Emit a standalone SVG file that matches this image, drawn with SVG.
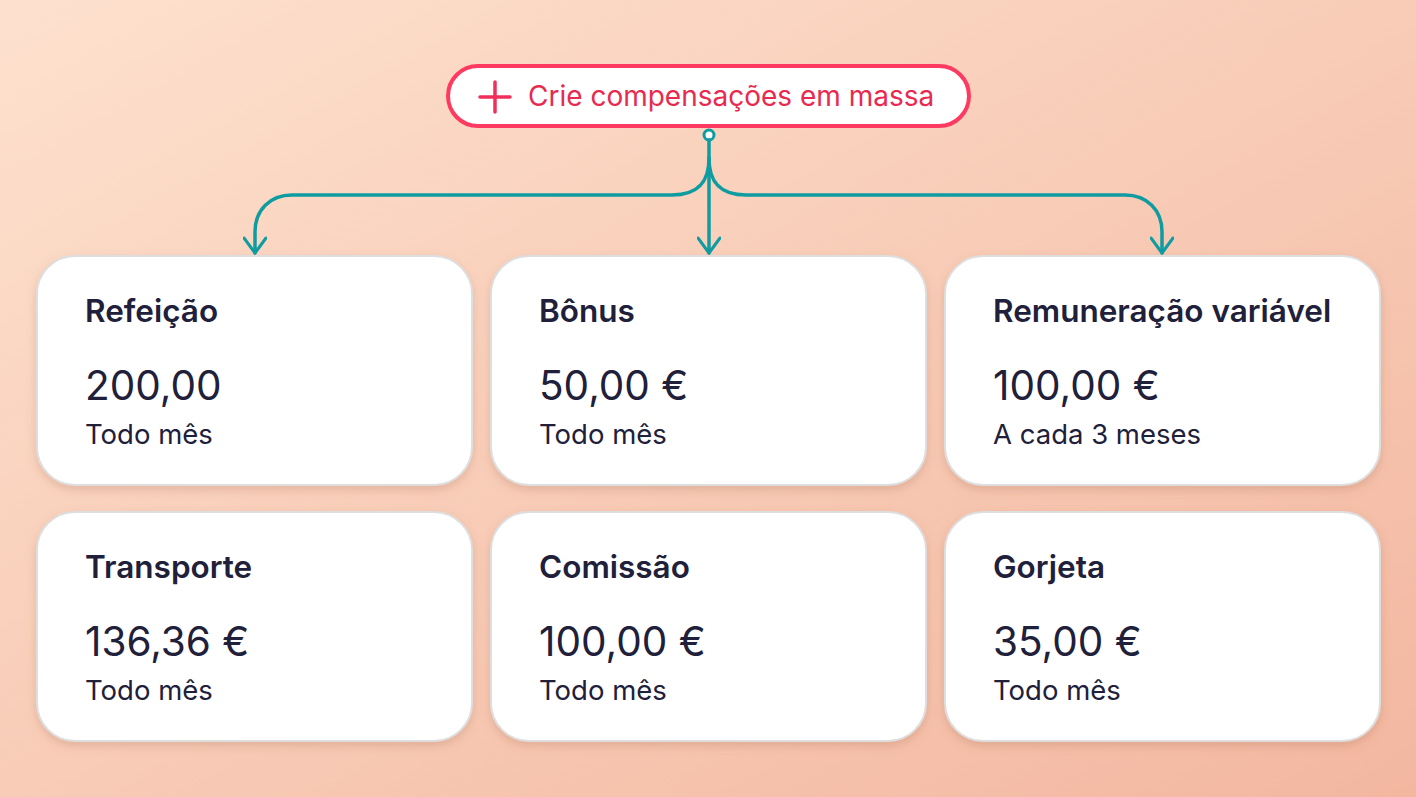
<svg xmlns="http://www.w3.org/2000/svg" width="1416" height="797" viewBox="0 0 1416 797">
<defs>
<linearGradient id="bg" x1="0" y1="0" x2="1" y2="1">
<stop offset="0" stop-color="#fde1ce"/>
<stop offset="1" stop-color="#f3b7a0"/>
</linearGradient>
<filter id="sh" x="-10%" y="-10%" width="120%" height="130%">
<feDropShadow dx="0" dy="4" stdDeviation="5" flood-color="#a0604a" flood-opacity="0.25"/>
</filter>
<marker id="arr" viewBox="0 0 20 24" refX="18" refY="12" markerWidth="20" markerHeight="24" markerUnits="userSpaceOnUse" orient="auto">
<path d="M3,1 L18,12 L3,23" fill="none" stroke="#0e9ca1" stroke-width="3" stroke-linecap="round" stroke-linejoin="round"/>
</marker>
<style>
.card{fill:#fff;stroke:#dedede;stroke-width:2;filter:url(#sh)}
.t{font-family:Inter,"Liberation Sans",sans-serif;fill:#20203a}
.title{font-size:31.5px;font-weight:600}
.amt{font-size:40.5px;font-weight:400}
.sub{font-size:27.5px;font-weight:400}
.con{fill:none;stroke:#0e9ca1;stroke-width:3.5;stroke-linecap:round}
</style>
</defs>
<rect width="1416" height="797" fill="url(#bg)"/>

<g id="button">
<rect x="448" y="66" width="521" height="60" rx="30" fill="#fff" stroke="#ff3a60" stroke-width="4"/>
<path d="M480,97 H510 M495,82 V112" stroke="#f0305a" stroke-width="3.5" stroke-linecap="round"/>
<text x="528" y="106" font-family="Inter,'Liberation Sans',sans-serif" font-size="28" fill="#e82a50">Crie compensações em massa</text>
</g>

<g id="connectors">
<circle cx="709" cy="135" r="5" fill="#fff" stroke="#0e9ca1" stroke-width="3"/>
<path class="con" d="M709,140 V253" marker-end="url(#arr)"/>
<path class="con" d="M709,158 C709,180 700,195 672,195 H292 C270,195 255,210 255,232 V253" marker-end="url(#arr)"/>
<path class="con" d="M709,158 C709,180 718,195 746,195 H1125 C1147,195 1162,210 1162,232 V253" marker-end="url(#arr)"/>
</g>

<g id="card-refeicao">
<rect class="card" x="37" y="256" width="435" height="229" rx="38"/>
<text class="t title" x="85" y="322">Refeição</text>
<text class="t amt" x="85" y="400">200,00</text>
<text class="t sub" x="85" y="444">Todo mês</text>
</g>
<g id="card-bonus">
<rect class="card" x="491" y="256" width="435" height="229" rx="38"/>
<text class="t title" x="539" y="322">Bônus</text>
<text class="t amt" x="539" y="400">50,00 €</text>
<text class="t sub" x="539" y="444">Todo mês</text>
</g>
<g id="card-remuneracao">
<rect class="card" x="945" y="256" width="435" height="229" rx="38"/>
<text class="t title" x="993" y="322">Remuneração variável</text>
<text class="t amt" x="993" y="400">100,00 €</text>
<text class="t sub" x="993" y="444">A cada 3 meses</text>
</g>
<g id="card-transporte">
<rect class="card" x="37" y="512" width="435" height="229" rx="38"/>
<text class="t title" x="85" y="578">Transporte</text>
<text class="t amt" x="85" y="656">136,36 €</text>
<text class="t sub" x="85" y="700">Todo mês</text>
</g>
<g id="card-comissao">
<rect class="card" x="491" y="512" width="435" height="229" rx="38"/>
<text class="t title" x="539" y="578">Comissão</text>
<text class="t amt" x="539" y="656">100,00 €</text>
<text class="t sub" x="539" y="700">Todo mês</text>
</g>
<g id="card-gorjeta">
<rect class="card" x="945" y="512" width="435" height="229" rx="38"/>
<text class="t title" x="993" y="578">Gorjeta</text>
<text class="t amt" x="993" y="656">35,00 €</text>
<text class="t sub" x="993" y="700">Todo mês</text>
</g>
</svg>
